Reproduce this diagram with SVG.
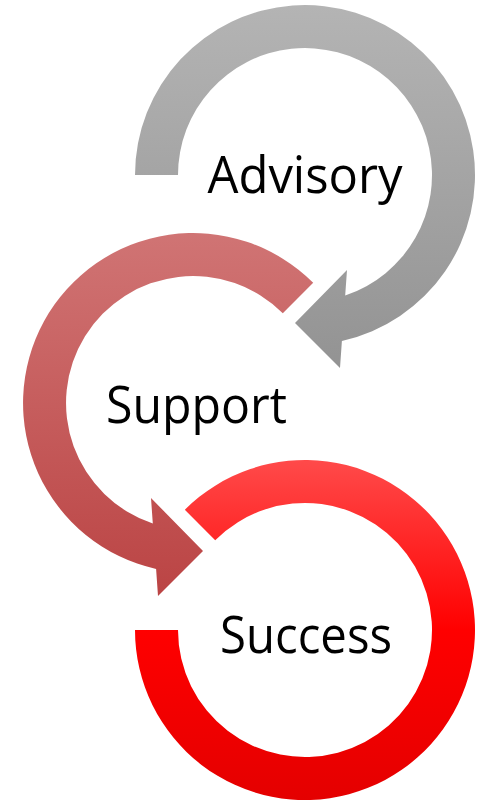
<svg xmlns="http://www.w3.org/2000/svg" width="481" height="801" viewBox="0 0 481 801">
  <defs>
    <linearGradient id="gGray" x1="0" y1="0" x2="0" y2="1">
      <stop offset="0" stop-color="#b4b4b4"/>
      <stop offset="1" stop-color="#939393"/>
    </linearGradient>
    <linearGradient id="gRose" x1="0" y1="0" x2="0" y2="1">
      <stop offset="0" stop-color="#d07474"/>
      <stop offset="1" stop-color="#bb4444"/>
    </linearGradient>
    <linearGradient id="gRed" x1="0" y1="0" x2="0" y2="1">
      <stop offset="0" stop-color="#ff4a4a"/>
      <stop offset="0.5" stop-color="#ff0000"/>
      <stop offset="1" stop-color="#e40000"/>
    </linearGradient>
    <style>
      .lbl { font-family: "Open Sans", "Liberation Sans", sans-serif; font-size: 52px; fill: #000000; text-anchor: middle; }
    </style>
  </defs>
  <g id="connectors"></g>
  <g id="advisory">
    <path fill="url(#gGray)" d="M135,175 A170,170 0 1 1 341.9,341 L340,368 L295,323 L347,270 L345.2,295.5 A127,127 0 1 0 178,175 Z"/>
    <text class="lbl" x="305" y="193" textLength="195" lengthAdjust="spacingAndGlyphs">Advisory</text>
  </g>
  <g id="support">
    <path fill="url(#gRose)" d="M313.2,282.8 A170,170 0 1 0 156.1,569 L158,596 L203,551 L151,498 L152.8,523.5 A127,127 0 1 1 282.8,313.2 Z"/>
    <text class="lbl" x="196.5" y="423" textLength="181" lengthAdjust="spacingAndGlyphs">Support</text>
  </g>
  <g id="success">
    <path fill="url(#gRed)" d="M135,630 A170,170 0 1 0 184.8,509.8 L215.2,540.2 A127,127 0 1 1 178,630 Z"/>
    <text class="lbl" x="306" y="653" textLength="172" lengthAdjust="spacingAndGlyphs">Success</text>
  </g>
</svg>
